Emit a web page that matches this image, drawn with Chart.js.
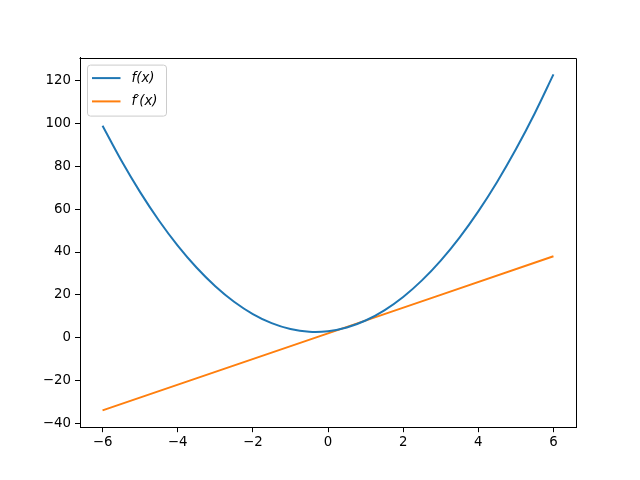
<!DOCTYPE html>
<html>
<head>
<meta charset="utf-8">
<script src="https://cdn.jsdelivr.net/npm/chart.js@4/dist/chart.umd.min.js"></script>
<style>
html, body { margin: 0; padding: 0; background: #ffffff; }
canvas { display: block; }
</style>
</head>
<body>
<canvas id="c" width="640" height="480"></canvas>
<script>
// Data
const xValues = [-6, -5.5, -5, -4.5, -4, -3.5, -3, -2.5, -2, -1.5, -1, -0.5, 0, 0.5, 1, 1.5, 2, 2.5, 3, 3.5, 4, 4.5, 5, 5.5, 6];
const fValues = [99, 82.75, 68, 54.75, 43, 32.75, 24, 16.75, 11, 6.75, 4, 2.75, 3, 4.75, 8, 12.75, 19, 26.75, 36, 46.75, 59, 72.75, 88, 104.75, 123];
const fpX = [-6, -3, 0, 3, 6];
const fpValues = [-34, -16, 2, 20, 38];
const seriesLabels = ["f(x)", "f\u2032(x)"];
const xTicks = [-6, -4, -2, 0, 2, 4, 6];
const yTicks = [-40, -20, 0, 20, 40, 60, 80, 100, 120];

const FONT = 'DejaVu Sans';
const tickFont = { family: FONT, size: 13.33 };
const fmt = v => String(v).replace('-', '\u2212');

const framePlugin = {
  id: 'frame',
  afterDraw(chart) {
    const a = chart.chartArea;
    const ctx = chart.ctx;
    ctx.save();
    ctx.strokeStyle = '#000';
    ctx.lineWidth = 1;
    ctx.beginPath();
    ctx.moveTo(Math.round(a.left) - 0.5, Math.round(a.top) + 0.5);
    ctx.lineTo(Math.round(a.right) + 0.5, Math.round(a.top) + 0.5);
    ctx.lineTo(Math.round(a.right) + 0.5, Math.round(a.bottom) + 0.5);
    ctx.stroke();
    ctx.restore();

    // Legend inside the axes (upper left)
    const lx = a.left + 7.5, ly = a.top + 7.5, lw = 79, lh = 51;
    ctx.save();
    ctx.beginPath();
    const r = 3;
    ctx.moveTo(lx + r, ly);
    ctx.lineTo(lx + lw - r, ly);
    ctx.quadraticCurveTo(lx + lw, ly, lx + lw, ly + r);
    ctx.lineTo(lx + lw, ly + lh - r);
    ctx.quadraticCurveTo(lx + lw, ly + lh, lx + lw - r, ly + lh);
    ctx.lineTo(lx + r, ly + lh);
    ctx.quadraticCurveTo(lx, ly + lh, lx, ly + lh - r);
    ctx.lineTo(lx, ly + r);
    ctx.quadraticCurveTo(lx, ly, lx + r, ly);
    ctx.closePath();
    ctx.fillStyle = 'rgba(255,255,255,0.8)';
    ctx.fill();
    ctx.strokeStyle = '#cccccc';
    ctx.lineWidth = 1;
    ctx.stroke();
    chart.data.datasets.forEach((ds, i) => {
      const yy = ly + 13 + i * 23.3;
      ctx.strokeStyle = ds.borderColor;
      ctx.lineWidth = 2;
      ctx.beginPath();
      ctx.moveTo(lx + 4.5, yy);
      ctx.lineTo(lx + 33, yy);
      ctx.stroke();
      ctx.fillStyle = '#000';
      ctx.font = 'italic 13.33px "' + FONT + '"';
      ctx.textBaseline = 'middle';
      ctx.textAlign = 'left';
      ctx.fillText(ds.label, lx + 44, yy);
    });
    ctx.restore();
  }
};

const axisCommon = {
  type: 'linear',
  grid: { display: true, drawOnChartArea: false, drawTicks: true, tickLength: 5, color: '#000', lineWidth: 1 },
  border: { display: true, color: '#000', width: 1 },
};

new Chart(document.getElementById('c'), {
  type: 'line',
  data: {
    datasets: [
      {
        label: seriesLabels[0],
        data: xValues.map((x, i) => ({ x: x, y: fValues[i] })),
        borderColor: '#1f77b4',
        borderWidth: 2,
        pointRadius: 0,
        tension: 0.4,
        fill: false
      },
      {
        label: seriesLabels[1],
        data: fpX.map((x, i) => ({ x: x, y: fpValues[i] })),
        borderColor: '#ff7f0e',
        borderWidth: 2,
        pointRadius: 0,
        tension: 0,
        fill: false
      }
    ]
  },
  options: {
    responsive: false,
    animation: false,
    devicePixelRatio: 1,
    layout: { padding: { top: 57.6, right: 64, left: 0, bottom: 0 } },
    plugins: { legend: { display: false }, tooltip: { enabled: false } },
    scales: {
      x: Object.assign({}, axisCommon, {
        position: 'bottom',
        min: -6.6, max: 6.6,
        afterBuildTicks: s => { s.ticks = xTicks.map(v => ({ value: v })); },
        afterFit: s => { s.height = 52.8; },
        ticks: { font: tickFont, color: '#000', padding: 2, maxRotation: 0, autoSkip: false, callback: v => fmt(v) }
      }),
      y: Object.assign({}, axisCommon, {
        position: 'left',
        min: -41.85, max: 130.85,
        afterBuildTicks: s => { s.ticks = yTicks.map(v => ({ value: v })); },
        afterFit: s => { s.width = 80; },
        ticks: { font: tickFont, color: '#000', padding: 4, autoSkip: false, callback: v => fmt(v) }
      })
    }
  },
  plugins: [framePlugin]
});
</script>
</body>
</html>
